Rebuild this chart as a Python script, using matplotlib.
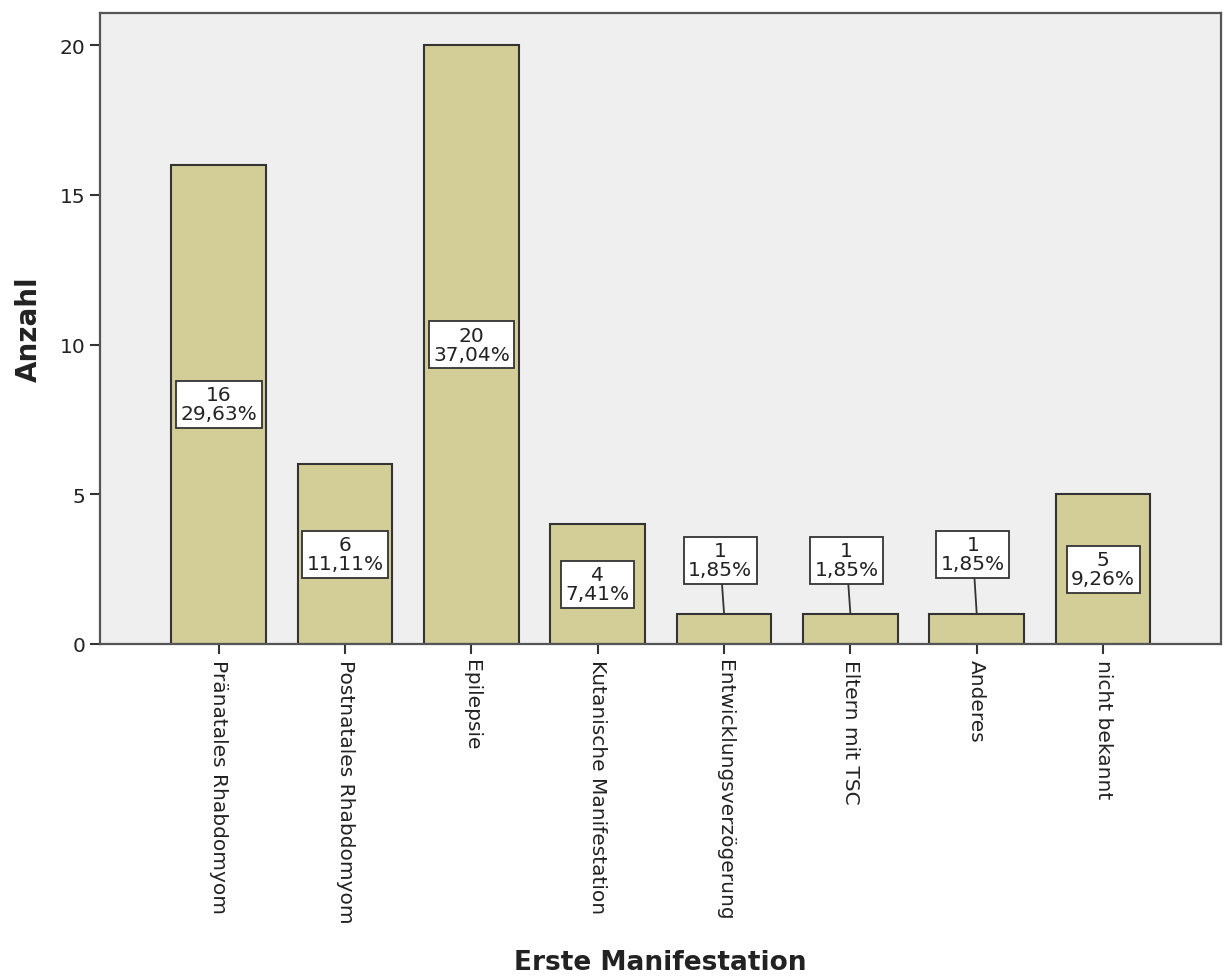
import matplotlib.pyplot as plt

# Erste Manifestation der TSC (Häufigkeiten)
categories = ['Pränatales Rhabdomyom', 'Postnatales Rhabdomyom', 'Epilepsie',
              'Kutanische Manifestation', 'Entwicklungsverzögerung',
              'Eltern mit TSC', 'Anderes', 'nicht bekannt']
counts = [16, 6, 20, 4, 1, 1, 1, 5]
percent_labels = ['29,63%', '11,11%', '37,04%', '7,41%', '1,85%', '1,85%', '1,85%', '9,26%']
y_ticks = [0, 5, 10, 15, 20]

bar_color = '#d3ce98'
edge = '#333333'

fig = plt.figure(figsize=(12.23, 9.78), dpi=100)
ax = fig.add_axes([0.0818, 0.3405, 0.9162, 0.6452])
ax.set_facecolor('#efefef')

x = range(len(categories))
ax.bar(x, counts, width=0.75, color=bar_color, edgecolor=edge, linewidth=1.5, zorder=2)

box = dict(boxstyle='square,pad=0.22', facecolor='white', edgecolor=edge, linewidth=1.3)
for i, (n, p) in enumerate(zip(counts, percent_labels)):
    label = f'{n}\n{p}'
    if n >= 4:
        ax.text(i, n / 2, label, ha='center', va='center', fontsize=14.5,
                color='#222222', bbox=box, linespacing=1.0, zorder=3)
    else:
        # small bars: box sits above the bar with a leader line
        ax.annotate(label, xy=(i, n), xytext=(i - 0.03, n + 1.8 + (0.2 if i == 6 else 0)),
                    ha='center', va='center', fontsize=14.5, color='#222222',
                    bbox=box, linespacing=1.0, zorder=3,
                    arrowprops=dict(arrowstyle='-', color=edge, lw=1.3,
                                    shrinkA=0, shrinkB=0))

ax.set_xlim(-0.94, 7.93)
ax.set_ylim(0, 21.07)
ax.set_yticks(y_ticks)
ax.set_xticks(list(x))
ax.set_xticklabels(categories, rotation=270, fontsize=14.5, color='#222222')
ax.tick_params(axis='y', labelsize=14.5, labelcolor='#222222', length=7, width=1.5, color=edge)
ax.tick_params(axis='x', length=7, width=1.5, color=edge, pad=4)

for s in ax.spines.values():
    s.set_color('#555555')
    s.set_linewidth(1.6)

ax.set_ylabel('Anzahl', fontsize=20, fontweight='bold', color='#222222')
ax.yaxis.set_label_coords(-0.051, 0.5)
ax.set_xlabel('Erste Manifestation', fontsize=19, fontweight='bold', color='#222222')
ax.xaxis.set_label_coords(0.5, -0.484)

fig.savefig('out.png', dpi=100)
